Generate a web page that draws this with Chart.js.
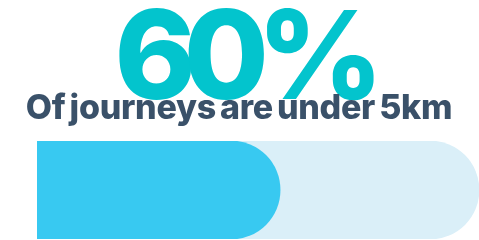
<!DOCTYPE html>
<html>
<head>
<meta charset="utf-8">
<script src="https://cdn.jsdelivr.net/npm/chart.js@4/dist/chart.umd.min.js"></script>
<style>
  html, body { margin: 0; padding: 0; background: #fff; }
  canvas { display: block; }
</style>
</head>
<body>
<canvas id="progress-chart" width="479" height="240"></canvas>
<script>
// data
const categories = ["Journeys"]
const headline = "60%"
const caption = "Of journeys are under 5km"
const shareValues = [55]
const trackValues = [100]

// big number + caption over the bar
const headingText = {
  id: "headingText",
  afterDraw(chart) {
    const ctx = chart.ctx
    ctx.save()
    ctx.textAlign = "center"
    ctx.textBaseline = "alphabetic"

    ctx.fillStyle = "#03C4CD"
    ctx.font = "800 123px Inter"
    ctx.letterSpacing = "-12px"
    ctx.fillText(headline, 243, 99)

    ctx.fillStyle = "#3A5169"
    ctx.font = "800 34px Inter"
    ctx.letterSpacing = "-0.3px"
    ctx.wordSpacing = "-3px"
    ctx.fillText(caption, 239, 119)
    ctx.restore()
  }
}

const progressChart = new Chart(document.getElementById("progress-chart"), {
  type: "bar",
  data: {
    labels: categories,
    datasets: [
      {
        label: "Share",
        data: shareValues,
        backgroundColor: "#38C9F1",
        borderRadius: 100,
        borderSkipped: "start",
        grouped: false,
        barPercentage: 1,
        categoryPercentage: 1
      },
      {
        label: "Track",
        data: trackValues,
        backgroundColor: "#DAEFF8",
        borderRadius: 100,
        borderSkipped: "start",
        grouped: false,
        barPercentage: 1,
        categoryPercentage: 1
      }
    ]
  },
  options: {
    indexAxis: "y",
    responsive: false,
    animation: false,
    layout: { padding: { top: 141, left: 37, right: 0, bottom: 1 } },
    scales: {
      x: { display: false, min: 0, max: 100 },
      y: { display: false }
    },
    plugins: {
      legend: { display: false },
      tooltip: { enabled: false }
    }
  },
  plugins: [headingText]
})
</script>
</body>
</html>
